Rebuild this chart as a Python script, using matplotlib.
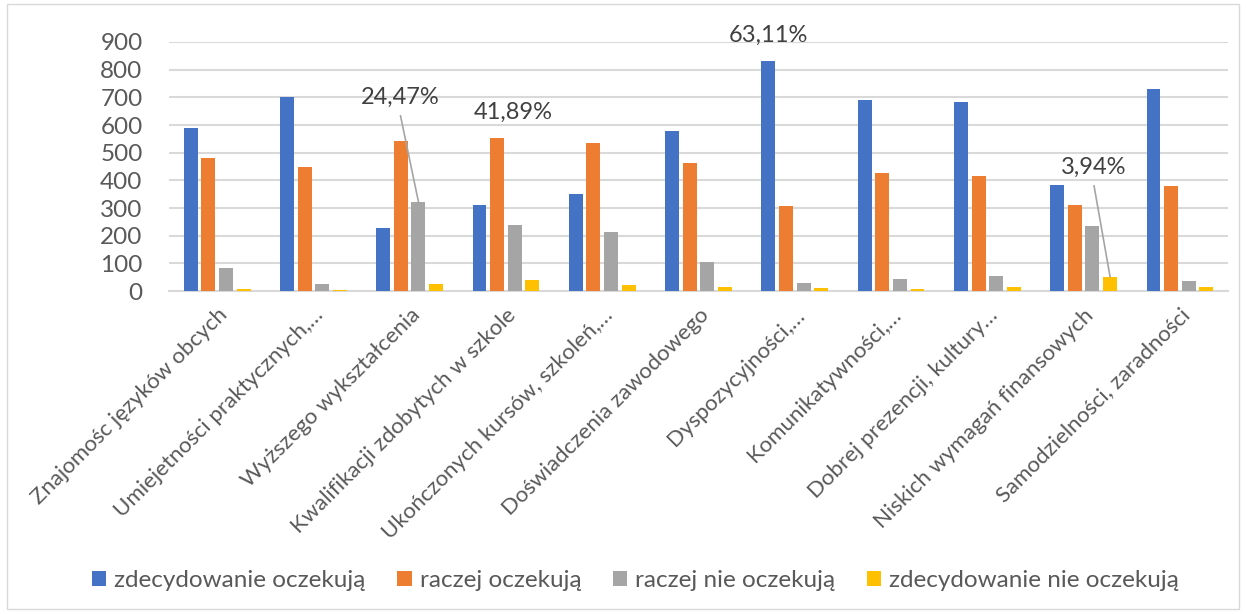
import matplotlib.pyplot as plt
import numpy as np
from matplotlib.patches import Rectangle

plt.rcParams['font.family'] = ['Lato', 'DejaVu Sans']

# Dane
kategorie = [
    "Znajomośc języków obcych", "Umiejetności praktycznych,…", "Wyższego wykształcenia",
    "Kwalifikacji zdobytych w szkole", "Ukończonych kursów, szkoleń,…",
    "Doświadczenia zawodowego", "Dyspozycyjności,…", "Komunikatywności,…",
    "Dobrej prezencji, kultury…", "Niskich wymagań finansowych", "Samodzielności, zaradności"
]
serie = ["zdecydowanie oczekują", "raczej oczekują", "raczej nie oczekują", "zdecydowanie nie oczekują"]
zdec_ocz = [591, 701, 228, 310, 352, 580, 832, 689, 684, 385, 731]
raczej_ocz = [479, 450, 542, 552, 536, 464, 309, 428, 417, 310, 379]
raczej_nie = [82, 27, 322, 240, 215, 105, 28, 42, 53, 234, 36]
zdec_nie = [6, 2, 24, 41, 21, 13, 10, 6, 13, 52, 13]
kolory = ["#4472C4", "#ED7D31", "#A5A5A5", "#FFC000"]

# etykiety procentowe: (kategoria, seria, tekst, pozycja tekstu, linia)
etykiety = [
    (2, 2, "24,47%", (1.905, 701), True),
    (3, 1, "41,89%", (3.073, 647), False),
    (6, 0, "63,11%", (5.722, 925), False),
    (9, 3, "3,94%", (9.108, 448), True),
]

dane = [zdec_ocz, raczej_ocz, raczej_nie, zdec_nie]
x = np.arange(len(kategorie))
krok = 0.183
szer = 0.145

fig = plt.figure(figsize=(12.46, 6.14), dpi=100)
ax = fig.add_axes([0.1356, 0.526, 0.85, 0.4056])

for i, (vals, kol, nazwa) in enumerate(zip(dane, kolory, serie)):
    ax.bar(x + (i - 1.5) * krok, vals, width=szer, color=kol, label=nazwa, zorder=3)

for kat, s, tekst, (tx, ty), linia in etykiety:
    bx = kat + (s - 1.5) * krok
    by = dane[s][kat]
    ax.text(tx, ty, tekst, ha='center', va='center', fontsize=17, color='#404040')
    if linia:
        ax.plot([tx, bx], [ty - 68, by], color='#A5A5A5', lw=1.2, zorder=4)

ax.set_xlim(-0.5, len(kategorie) - 0.5)
ax.set_ylim(0, 900)
ax.set_yticks(range(0, 901, 100))
ax.yaxis.grid(True, color='#D9D9D9', lw=1.5, zorder=0)
ax.tick_params(axis='y', length=0, labelsize=17.5, labelcolor='#595959', pad=19)
ax.tick_params(axis='x', length=0, labelsize=16, labelcolor='#595959', pad=10)
ax.set_xticks(x)
ax.set_xticklabels(kategorie, rotation=45, ha='right', va='top', rotation_mode='anchor')
for sp in ['top', 'right', 'left']:
    ax.spines[sp].set_visible(False)
ax.spines['bottom'].set_color('#D9D9D9')
ax.spines['bottom'].set_linewidth(1.5)

fig.legend(loc='center', bbox_to_anchor=(0.51, 0.055), ncol=4, frameon=False,
           fontsize=17.5, labelcolor='#595959', handlelength=0.58, handleheight=0.58,
           handletextpad=0.33, columnspacing=1.3)

fig.patches.append(Rectangle((0.006, 0.008), 0.988, 0.985, transform=fig.transFigure,
                             fill=False, edgecolor='#D9D9D9', lw=1))

fig.savefig("out.png", dpi=100)
